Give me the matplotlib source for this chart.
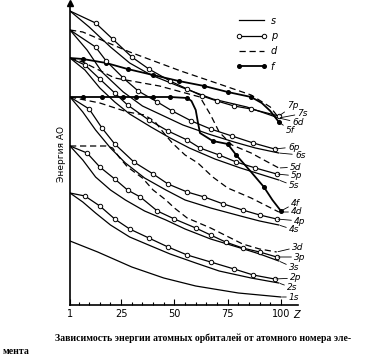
import matplotlib.pyplot as plt
from matplotlib.lines import Line2D

# атомный номер Z и энергия АО (условные единицы)
z_1s = [1, 14, 30, 45, 60, 80, 100]
e_1s = [64, 53, 38, 27, 19, 12, 8]

z_2s = [1, 7, 13, 20, 29, 39, 48, 60, 71, 86, 99]
e_2s = [112, 103, 92, 80, 68, 59, 51, 42, 34, 27, 22]
z_2p = [1, 8, 15, 22, 29, 38, 47, 56, 67, 78, 87, 97]
e_2p = [112, 109, 99, 86, 76, 67, 58, 50, 43, 36, 30, 26]

z_3s = [1, 7, 13, 20, 27, 36, 46, 55, 67, 81, 90, 99]
e_3s = [159, 145, 128, 115, 105, 94, 85, 76, 66, 57, 51, 44]
z_3p = [1, 9, 15, 22, 28, 34, 42, 50, 60, 67, 74, 82, 90, 98]
e_3p = [159, 152, 138, 126, 115, 108, 94, 86, 77, 70, 63, 57, 53, 48]
z_3d = [1, 18, 21, 24, 28, 35, 40, 46, 50, 56, 67, 82, 90, 98]
e_3d = [159, 159, 157, 148, 138, 127, 115, 105, 97, 87, 77, 61, 56, 53]

z_4s = [1, 7, 13, 20, 27, 36, 46, 55, 67, 81, 90, 99]
e_4s = [208, 193, 175, 157, 142, 127, 115, 105, 97, 89, 84, 80]
z_4p = [1, 10, 16, 22, 31, 40, 47, 56, 64, 73, 82, 90, 98]
e_4p = [208, 196, 177, 161, 143, 131, 121, 113, 108, 101, 95, 90, 86]
z_4d = [1, 15, 28, 36, 41, 45, 49, 55, 61, 68, 75, 86, 99]
e_4d = [208, 202, 193, 190, 183, 172, 162, 150, 142, 128, 117, 107, 93]
z_4f = [1, 7, 16, 26, 32, 40, 48, 56, 58, 60, 61, 62, 68, 75, 79, 86, 92, 96, 100]
e_4f = [208, 208, 208, 208, 208, 208, 208, 207, 204, 195, 183, 172, 164, 161, 150, 133, 118, 105, 94]

z_5s = [1, 8, 15, 22, 29, 39, 48, 57, 69, 81, 90, 99]
e_5s = [247, 235, 217, 203, 191, 178, 167, 157, 146, 137, 131, 125]
z_5p = [1, 8, 15, 22, 28, 38, 47, 56, 62, 71, 79, 88, 98]
e_5p = [247, 240, 226, 212, 200, 185, 174, 165, 157, 150, 143, 137, 131]
z_5d = [1, 7, 22, 43, 62, 67, 71, 77, 86, 92, 99]
e_5d = [247, 243, 227, 219, 208, 190, 173, 160, 152, 145, 137]
z_5f = [1, 7, 18, 28, 40, 52, 64, 75, 86, 91, 95, 99]
e_5f = [247, 246, 242, 236, 230, 224, 219, 213, 208, 202, 194, 183]

z_6s = [1, 9, 16, 26, 35, 45, 54, 66, 78, 88, 99]
e_6s = [275, 255, 233, 213, 199, 189, 180, 171, 163, 157, 152]
z_6p = [1, 13, 18, 26, 33, 42, 49, 58, 67, 77, 87, 97]
e_6p = [275, 258, 244, 227, 214, 203, 194, 184, 176, 169, 162, 156]
z_6d = [1, 7, 29, 53, 71, 86, 95, 99]
e_6d = [275, 273, 253, 234, 221, 210, 198, 187]

z_7s = [1, 10, 20, 29, 39, 53, 68, 84, 99]
e_7s = [294, 278, 258, 242, 230, 218, 206, 198, 187]
z_7p = [1, 13, 21, 30, 38, 48, 56, 63, 70, 78, 86, 99]
e_7p = [294, 282, 266, 248, 236, 224, 216, 209, 204, 199, 196, 189]

# подписи справа: где стоит текст
label_pos = {
    "7p": (103, 199), "7s": (107.8, 191.5), "6d": (105.5, 182.5), "5f": (102.4, 174.5),
    "6p": (103.3, 158), "6s": (106.6, 150), "5d": (104.3, 138), "5p": (104.8, 129),
    "5s": (103.8, 119), "4f": (104.8, 102), "4d": (104.8, 93), "4p": (106.2, 84),
    "4s": (103.8, 75), "3d": (105.2, 58), "3p": (106.2, 48), "3s": (103.8, 37),
    "2p": (104.3, 27), "2s": (102.9, 17), "1s": (103.8, 8),
}

curves = [
    ("1s", z_1s, e_1s), ("2s", z_2s, e_2s), ("2p", z_2p, e_2p),
    ("3s", z_3s, e_3s), ("3p", z_3p, e_3p), ("3d", z_3d, e_3d),
    ("4s", z_4s, e_4s), ("4p", z_4p, e_4p), ("4d", z_4d, e_4d), ("4f", z_4f, e_4f),
    ("5s", z_5s, e_5s), ("5p", z_5p, e_5p), ("5d", z_5d, e_5d), ("5f", z_5f, e_5f),
    ("6s", z_6s, e_6s), ("6p", z_6p, e_6p), ("6d", z_6d, e_6d),
    ("7s", z_7s, e_7s), ("7p", z_7p, e_7p),
]

# точки на f-кривых
f_marks = {"4f": [1, 2, 3, 4, 5, 6, 7, 12, 13, 14, 16, 18],
           "5f": [1, 2, 3, 4, 5, 6, 7, 8, 11]}

fig = plt.figure(figsize=(3.79, 3.58), dpi=100)
ax = fig.add_axes([70 / 379, 53 / 358, 228 / 379, 302 / 358])
ax.set_xlim(1, 108)
ax.set_ylim(0, 302)

lw = 0.9
for name, z, e in curves:
    kind = name[1]
    if kind == "s":
        ax.plot(z, e, "-", color="k", lw=lw)
    elif kind == "p":
        ax.plot(z, e, "-", color="k", lw=lw, marker="o", ms=3.2, mfc="white",
                mec="k", mew=0.7, markevery=slice(1, None))
    elif kind == "d":
        ax.plot(z, e, "--", color="k", lw=lw, dashes=(5, 3))
    else:
        ax.plot(z, e, "-", color="k", lw=1.3, marker="o", ms=2.6, mfc="k",
                mec="k", markevery=f_marks[name])
    ax.annotate(name, xy=(z[-1], e[-1]), xytext=label_pos[name],
                ha="left", va="center", fontsize=6.5, style="italic",
                arrowprops=dict(arrowstyle="-", lw=0.6, shrinkA=0, shrinkB=1),
                annotation_clip=False)

for s in ["top", "right"]:
    ax.spines[s].set_visible(False)
ax.spines["left"].set_linewidth(1.2)
ax.spines["bottom"].set_linewidth(1.2)
ax.plot(1, 302, marker="^", ms=4, color="k", clip_on=False)

ax.set_yticks([])
ax.set_xticks([1, 25, 50, 75, 100])
ax.set_xticks([z for z in range(5, 105, 5) if z % 25], minor=True)
ax.tick_params(axis="x", which="major", direction="in", length=4.5, width=0.8,
               labelsize=7, pad=3)
ax.tick_params(axis="x", which="minor", direction="in", length=2.5, width=0.8)
ax.text(105.7, -0.033, "Z", transform=ax.get_xaxis_transform(), fontsize=7,
        style="italic", ha="left", va="center")
ax.set_ylabel("Энергия АО", fontsize=6.5, labelpad=3)

handles = [
    Line2D([], [], color="k", lw=lw),
    Line2D([], [], color="k", lw=lw, marker="o", ms=3.2, mfc="white", mew=0.7),
    Line2D([], [], color="k", lw=lw, ls="--", dashes=(5, 3)),
    Line2D([], [], color="k", lw=1.3, marker="o", ms=2.6),
]
fig.legend(handles, ["s", "p", "d", "f"], loc="upper left",
           bbox_to_anchor=(227 / 379, 1 - 7 / 358), frameon=False,
           prop={"style": "italic", "size": 7}, handlelength=3.2,
           labelspacing=0.55, handletextpad=0.4, numpoints=2)

fig.text(55 / 379, 1 - 338 / 358,
         "Зависимость энергии атомных орбиталей от атомного номера эле-",
         family="Liberation Serif", weight="bold", fontsize=7, va="center")
fig.text(3 / 379, 1 - 352 / 358, "мента", family="Liberation Serif",
         weight="bold", fontsize=7, va="center")

fig.savefig("out.png", dpi=100)
